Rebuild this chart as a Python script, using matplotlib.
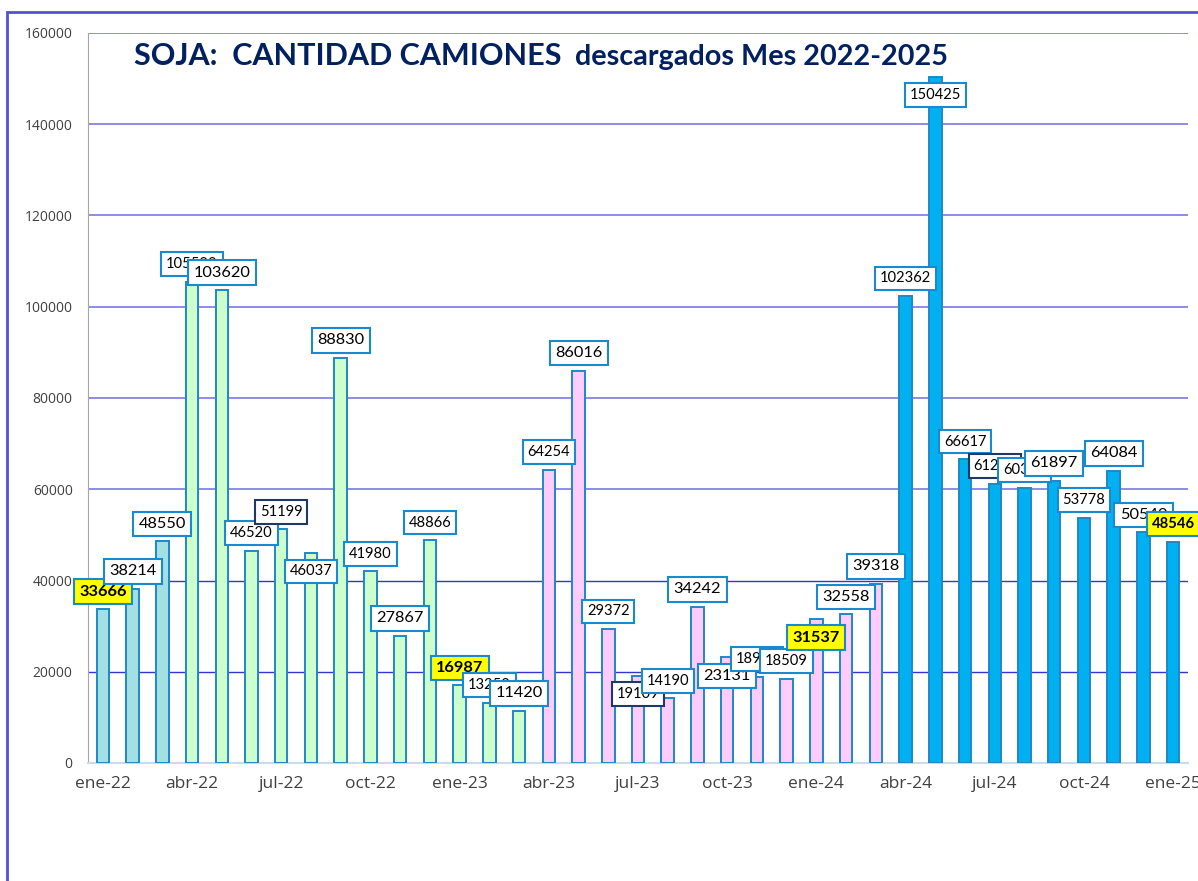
import matplotlib.pyplot as plt
from matplotlib.patches import Rectangle

# Camiones de soja descargados por mes (ene-22 a ene-25)
meses = ['ene-22', 'feb-22', 'mar-22', 'abr-22', 'may-22', 'jun-22', 'jul-22', 'ago-22', 'sep-22',
         'oct-22', 'nov-22', 'dic-22', 'ene-23', 'feb-23', 'mar-23', 'abr-23', 'may-23', 'jun-23',
         'jul-23', 'ago-23', 'sep-23', 'oct-23', 'nov-23', 'dic-23', 'ene-24', 'feb-24', 'mar-24',
         'abr-24', 'may-24', 'jun-24', 'jul-24', 'ago-24', 'sep-24', 'oct-24', 'nov-24', 'dic-24',
         'ene-25']
camiones = [33666, 38214, 48550, 105500, 103620, 46520, 51199, 46037, 88830, 41980, 27867, 48866,
            16987, 13250, 11420, 64254, 86016, 29372, 19109, 14190, 34242, 23131, 18920, 18509,
            31537, 32558, 39318, 102362, 150425, 66617, 61230, 60340, 61897, 53778, 64084, 50540,
            48546]
# campaña (abr-mar) a la que pertenece cada mes
campana = ['21/22'] * 3 + ['22/23'] * 12 + ['23/24'] * 12 + ['24/25'] * 10
tick_labels = ['ene-22', 'abr-22', 'jul-22', 'oct-22', 'ene-23', 'abr-23', 'jul-23', 'oct-23',
               'ene-24', 'abr-24', 'jul-24', 'oct-24', 'ene-25']

colores = {'21/22': '#A3E0E3', '22/23': '#CCFFCC', '23/24': '#FFCCFF', '24/25': '#00B0F0'}

# etiquetas que van debajo del tope de la barra, y las de letra mas chica
abajo = {7, 18, 21, 24, 28}
chicas = {3, 5, 6, 7, 9, 11, 13, 15, 17, 18, 19, 22, 23, 27, 28, 29, 30, 31, 33, 36}
borde_oscuro = {6, 18, 30}

W, H = 1198, 881
fig = plt.figure(figsize=(W / 100, H / 100), dpi=100)
ax = fig.add_axes([88 / W, 1 - 763 / H, (1188 - 88) / W, (763 - 33) / H])

x = list(range(len(camiones)))
ax.bar(x, camiones, width=0.42, color=[colores[c] for c in campana],
       edgecolor='#1E88C8', linewidth=1.4, zorder=3)

ax.set_xlim(-0.5, 36.5)
ax.set_ylim(0, 160000)
ax.set_yticks(range(0, 160001, 20000))
ax.set_xticks(range(0, len(camiones), 3))
ax.set_xticklabels(tick_labels)
ax.tick_params(axis='both', length=0, colors='#404040')
ax.tick_params(axis='y', labelsize=10, pad=11)
ax.tick_params(axis='x', labelsize=12.5, pad=9)
for lab in ax.get_xticklabels() + ax.get_yticklabels():
    lab.set_family('Open Sans')

for v in range(20000, 160001, 20000):
    if v <= 40000:
        ax.axhline(v, color='#3535D0', linewidth=1.0, zorder=1)
    else:
        ax.axhline(v, color='#8C8CE6', linewidth=1.4, zorder=1)

for s in ['top', 'right']:
    ax.spines[s].set_visible(False)
ax.spines['left'].set_color('#A6A6A6')
ax.spines['bottom'].set_color('#C9DCEC')
ax.spines['bottom'].set_linewidth(1.5)

for i, v in enumerate(camiones):
    enero = meses[i].startswith('ene')
    dy = -18.5 if i in abajo else 17.5
    ax.annotate(str(v), (i, v), xytext=(0, dy), textcoords='offset pixels',
                ha='center', va='center', family='Lato',
                fontsize=10.6 if i in chicas else 11.8,
                fontweight='bold' if enero else 'normal', color='black', zorder=10 + i,
                bbox=dict(boxstyle='square,pad=0.33',
                          fc='#FFFF00' if enero else 'white',
                          ec='#1F3864' if i in borde_oscuro else '#1A8AD0', lw=1.5))

fig.text(134 / W, 1 - 65 / H, 'SOJA:  CANTIDAD CAMIONES', va='baseline', ha='left',
         fontsize=22, fontweight='bold', color='#002060', family='Lato')
fig.text(575 / W, 1 - 65 / H, 'descargados Mes 2022-2025', va='baseline', ha='left',
         fontsize=20.7, fontweight='bold', color='#002060', family='Lato')

# borde del grafico
fig.patches.append(Rectangle((7 / W, -0.05), 1.1, 1 - 12 / H + 0.05, transform=fig.transFigure,
                             fill=False, edgecolor='#5252D2', linewidth=2))

fig.savefig('out.png', dpi=100)
